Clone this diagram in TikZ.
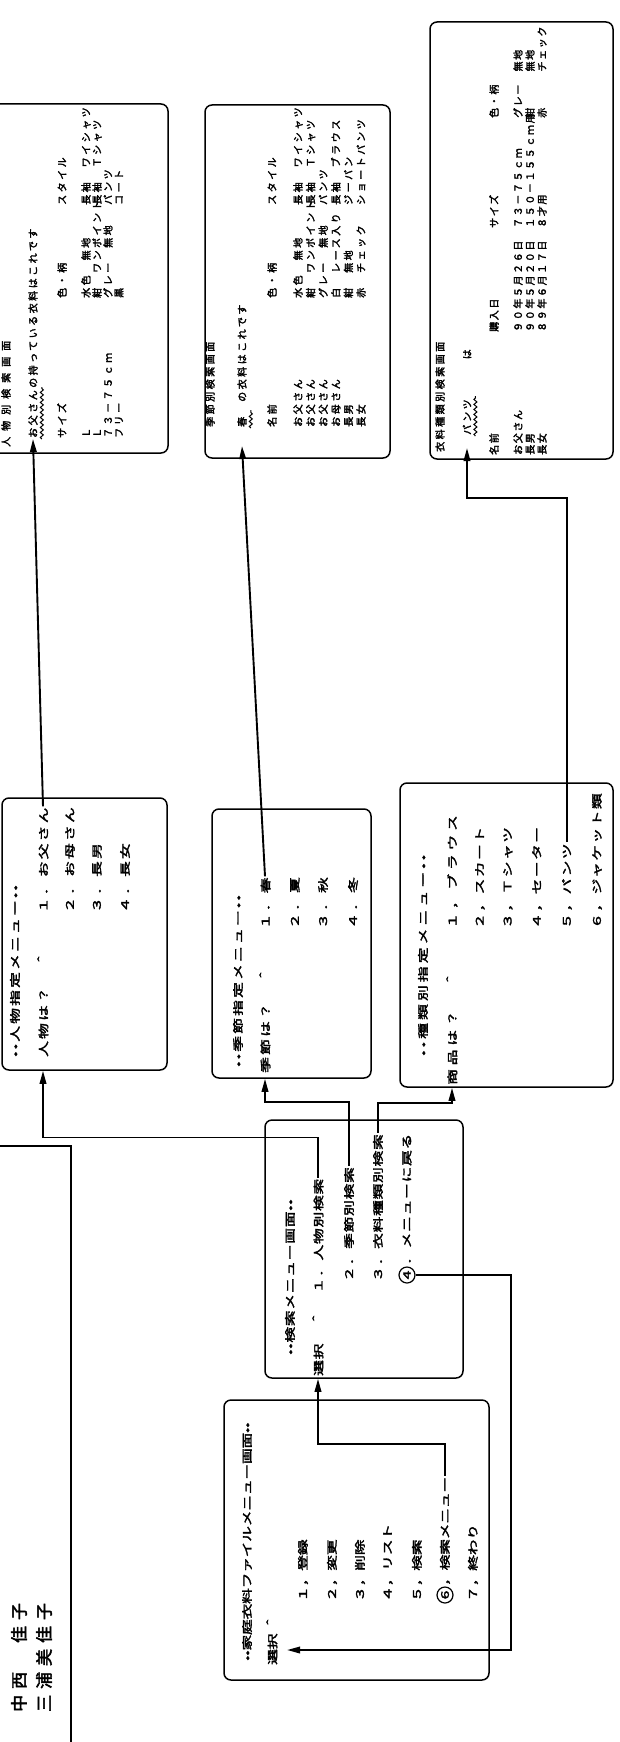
\documentclass[tikz,border=0pt]{standalone}
\usepackage{fontspec}
\usetikzlibrary{arrows.meta,decorations.pathmorphing}
\newfontfamily\menufont{Noto Sans CJK JP}[FakeStretch=1.5,AutoFakeBold=3]
\newfontfamily\resfont{Noto Sans CJK JP}[AutoFakeBold=2.5]
\newfontfamily\namefont{Noto Sans CJK JP}[AutoFakeBold=2.5]
\newcommand\cellw[2]{\makebox[#1][l]{#2}}
\tikzset{
      scrbox/.style={draw, line width=1.5pt, rounded corners=7pt, inner sep=0pt},
      menu/.style={rotate=90, anchor=west, inner sep=1pt,
        font={\menufont\bfseries\fontsize{10.5}{12}\selectfont\addfontfeature{LetterSpace=#1}}},
      menu/.default=21,
      restext/.style={rotate=90, anchor=west, inner sep=1pt,
        font={\resfont\bfseries\fontsize{10}{11}\selectfont\addfontfeature{LetterSpace=#1}}},
      restext/.default=25,
      namestyle/.style={rotate=90, anchor=west, inner sep=0pt,
        font={\namefont\bfseries\fontsize{17}{20}\selectfont\addfontfeature{LetterSpace=35}}},
      circ/.style={circle, draw, line width=1.2pt, inner sep=0pt, minimum size=16pt,
        rotate=90, font={\menufont\bfseries\fontsize{10.5}{12}\selectfont}},
      link/.style={line width=1.9pt, -{Triangle[length=13pt,width=6.5pt]}},
      wavy/.style={line width=1pt, decorate,
        decoration={snake, amplitude=1.5pt, segment length=5pt}}
    }
\begin{document}
\begin{tikzpicture}[x=1pt,y=1pt]
    \useasboundingbox (0,0) rectangle (620,-1742);
    % screens
    \node[scrbox, minimum width=178pt, minimum height=349pt] (prbox) at (79,-278.5) {};
    \node[scrbox, minimum width=185pt, minimum height=353pt] (srbox) at (297.5,-281.5) {};
    \node[scrbox, minimum width=183pt, minimum height=437pt] (trbox) at (521.5,-240.5) {};
    \node[scrbox, minimum width=165pt, minimum height=272pt] (pmbox) at (84.5,-934) {};
    \node[scrbox, minimum width=159pt, minimum height=269pt] (smbox) at (291.5,-943.5) {};
    \node[scrbox, minimum width=213pt, minimum height=304pt] (tmbox) at (506.5,-935) {};
    \node[scrbox, minimum width=198pt, minimum height=258pt] (sbox) at (364,-1249) {};
    \node[scrbox, minimum width=265pt, minimum height=280pt] (mmbox) at (356.5,-1540) {};

    % title block
    \draw[line width=2.8pt] (0,-1146) -| (71,-1742);
    \node[namestyle] (nm1) at (19,-1712) {中西　佳子};
    \node[namestyle] (nm2) at (44,-1712) {三浦美佳子};

    % main menu
    \node[menu=-2] (mm-t) at (247,-1662) {••家庭衣料ファイルメニュー画面••};
    \node[menu=-2] (mm-sel) at (272,-1666) {選択 ＾};
    \node[menu=-2] (m1) at (303,-1603) {１，登録};
    \node[menu=-2] (m2) at (332,-1603) {２，変更};
    \node[menu=-2] (m3) at (360,-1603) {３，削除};
    \node[menu=-2] (m4) at (388,-1603) {４，リスト};
    \node[menu=-2] (m5) at (417,-1603) {５，検索};
    \node[circ] (c6) at (445,-1595) {6};
    \node[menu=-2] (m6) at (445,-1587) {，検索メニュー};
    \node[menu=-2] (m7) at (473,-1603) {７，終わり};
    \coordinate (mm-in) at (287,-1650);

    % search menu
    \node[menu=7] (s-t) at (290,-1356) {••検索メニュー画面••};
    \node[menu=7] (s1) at (318,-1377) {選択　＾　１．人物別検索};
    \node[menu=7] (s2) at (349,-1283) {２．季節別検索};
    \node[menu=7] (s3) at (378,-1283) {３．衣料種類別検索};
    \node[circ] (c4) at (407,-1275) {4};
    \node[menu=7] (s4) at (407,-1266) {．メニューに戻る};

    % person / season / type menus
    \node[menu] (pm-t) at (15,-1058) {••人物指定メニュー••};
    \node[menu] (pm1) at (43,-1058) {人物は？　＾　　１．お父さん};
    \node[menu] (pm2) at (70,-914) {２．お母さん};
    \node[menu] (pm3) at (97,-914) {３．長男};
    \node[menu] (pm4) at (125,-914) {４．長女};

    \node[menu] (sm-t) at (238,-1068) {••季節指定メニュー••};
    \node[menu] (sm1) at (265,-1074) {季節は？　＾　　１．春};
    \node[menu] (sm2) at (295,-930) {２．夏};
    \node[menu] (sm3) at (323,-930) {３．秋};
    \node[menu] (sm4) at (353,-930) {４．冬};

    \node[menu=30] (tm-t) at (423,-1057) {••種類別指定メニュー••};
    \node[menu=36] (tm1) at (452,-1086) {商品は？　＾　　１，ブラウス};
    \node[menu=14] (tm2) at (480,-930) {２，スカート};
    \node[menu=14] (tm3) at (508,-930) {３，Ｔシャツ};
    \node[menu=14] (tm4) at (537,-930) {４，セーター};
    \node[menu=14] (tm5) at (567,-930) {５，パンツ};
    \node[menu=14] (tm6) at (597,-930) {６，ジャケット類};

    % result screens
    \node[restext=60] (pr-t) at (6,-448) {人物別検索画面};
    \node[restext] (pr1) at (33,-439) {お父さんの持っている衣料はこれです};
    \node[restext] (pr-h) at (62,-439) {\cellw{140pt}{サイズ}\cellw{93pt}{色・柄}スタイル};
    \foreach \a/\b/\c [count=\i] in {Ｌ/水色　無地/長袖　ワイシャツ,Ｌ/紺　ワンポイント/長袖　Ｔシャツ,７３－７５ｃｍ/グレー　無地/パンツ,フリー/黒/コート}
      \node[restext] (pr-r\i) at (75+11*\i,-439) {\cellw{140pt}{\a}\cellw{93pt}{\b}\c};

    \node[restext] (sr-t) at (210,-428) {季節別検索画面};
    \node[restext] (sr1) at (242,-428) {春　の衣料はこれです};
    \node[restext] (sr-h) at (272,-428) {\cellw{129pt}{名前}\cellw{93pt}{色・柄}スタイル};
    \foreach \a/\b/\c [count=\i] in {お父さん/水色　無地/長袖　ワイシャツ,お父さん/紺　ワンポイント/長袖　Ｔシャツ,お父さん/グレー　無地/パンツ,お母さん/白　レース入り/長袖　ブラウス,長男/紺　無地/ジーパン,長女/赤　チェック/ショートパンツ}
      \node[restext] (sr-r\i) at (285.4+12.6*\i,-428) {\cellw{129pt}{\a}\cellw{93pt}{\b}\c};

    \node[restext] (tr-t) at (440,-453) {衣料種類別検索画面};
    \node[restext] (tr1) at (467,-436) {パンツ　　　は};
    \node[restext=16] (tr-h) at (494,-456) {\cellw{123pt}{名前}\cellw{104pt}{購入日}\cellw{110pt}{サイズ}色・柄};
    \foreach \a/\b/\c/\d [count=\i] in {お父さん/９０年５月２６日/７３－７５ｃｍ/グレー　無地,長男/９０年５月２０日/１５０－１５５ｃｍ用/紺　　　無地,長女/８９年６月１７日/８才用/赤　　　チェック}
      \node[restext=16] (tr-r\i) at (506+12*\i,-456) {\cellw{123pt}{\a}\cellw{104pt}{\b}\cellw{110pt}{\c}\d};

    % underlines
    \draw[wavy] ([xshift=3pt]pr1.south west) -- ++(0,52);
    \draw[wavy] ([xshift=3pt]sr1.south west) -- ++(0,18);
    \draw[wavy] ([xshift=3pt]tr1.south west) -- ++(0,40);

    % connectors
    \draw[link] (s1.east) -- ++(0,40) -| (pm1.west |- pmbox.south);
    \draw[link] (s2.east) -- ++(0,64) -| (sm1.west |- smbox.south);
    \draw[link] (s3.east) -- ++(0,30) -| (tm1.west |- tmbox.south);
    \draw[link] (c4.south) -- ++(95,0) |- (mm-in);
    \draw[link] (m6.east) -- ++(0,32) -| (s1.west |- sbox.south);
    \draw[link] (pm1.east) -- (pr1.west);
    \draw[link] (sm1.east) -- ([yshift=-18pt]sr1.west);
    \draw[link] (tm5.east) |- ([yshift=-62pt]tr1.west) -- ([yshift=-12pt]tr1.west);
    \end{tikzpicture}
\end{document}
